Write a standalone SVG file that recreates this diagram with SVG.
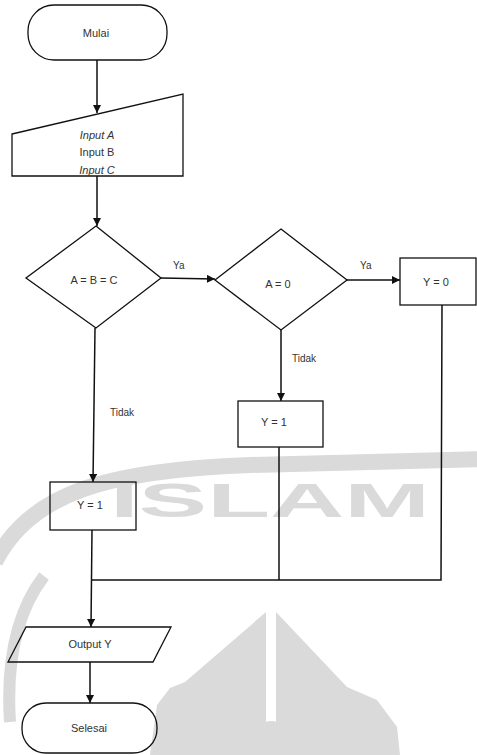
<svg xmlns="http://www.w3.org/2000/svg" width="477" height="755" viewBox="0 0 477 755">
<style>
.bg{fill:#ffffff}
.wm{fill:#dadada;stroke:none}
.wms{fill:none;stroke:#dadada}
.shape{fill:none;stroke:#111;stroke-width:1.3}
.conn{fill:none;stroke:#111;stroke-width:1.5}
.t{font-family:"Liberation Sans",Arial,sans-serif;font-size:11px;fill:#333;text-anchor:middle}
.lbl{font-family:"Liberation Sans",Arial,sans-serif;font-size:10px;fill:#333;text-anchor:start}
</style>
<defs>
<marker id="arr" viewBox="0 0 10 10" refX="10" refY="5" markerWidth="9" markerHeight="8" orient="auto" markerUnits="userSpaceOnUse">
<path d="M0,0 L10,5 L0,10 Z" fill="#111"/>
</marker>
</defs>
<rect class="bg" x="0" y="0" width="477" height="755"/>
<g id="watermark">
<path class="wms" stroke-width="16" d="M-5,562 C30,492 110,470 250,465 L482,459"/>
<path class="wms" stroke-width="12" d="M44,576 C18,610 6,660 10,722"/>
<path class="wm" d="M266,612 L185,682 L170,688 L157,705 L150,755 L400,755 L397,727 L377,700 L347,687 L276,612 Z"/>
<rect x="266" y="612" width="10" height="112" fill="#ffffff"/>
<circle class="wm" cx="271" cy="737" r="16"/>
<text x="110" y="517" font-family="'Liberation Sans',Arial,sans-serif" font-weight="bold" font-size="48" fill="#dadada" textLength="320" lengthAdjust="spacingAndGlyphs">ISLAM</text>
</g>
<g id="connectors">
<path class="conn" d="M97,60 L97,113" marker-end="url(#arr)"/>
<path class="conn" d="M97,176 L97,226" marker-end="url(#arr)"/>
<path class="conn" d="M161,278 L215,279" marker-end="url(#arr)"/>
<path class="conn" d="M347,280 L400,280" marker-end="url(#arr)"/>
<path class="conn" d="M281,330 L281,401" marker-end="url(#arr)"/>
<path class="conn" d="M95,328 L93,482" marker-end="url(#arr)"/>
<path class="conn" d="M279,447 L279,580"/>
<path class="conn" d="M442,305 L441,580 L92,580"/>
<path class="conn" d="M92,530 L91,627" marker-end="url(#arr)"/>
<path class="conn" d="M90,662 L90,703" marker-end="url(#arr)"/>
<text class="lbl" x="173" y="269">Ya</text>
<text class="lbl" x="360" y="269">Ya</text>
<text class="lbl" x="292" y="362">Tidak</text>
<text class="lbl" x="110" y="416">Tidak</text>
</g>
<g id="mulai">
<rect class="shape" x="28" y="5" width="139" height="55" rx="26" ry="26"/>
<text class="t" x="96" y="37">Mulai</text>
</g>
<g id="input">
<path class="shape" d="M12,134 L183,94 L183,176 L12,176 Z"/>
<text class="t" x="97" y="139" font-style="italic">Input A</text>
<text class="t" x="97" y="156">Input B</text>
<text class="t" x="97" y="174" font-style="italic">Input C</text>
</g>
<g id="cek-abc">
<path class="shape" d="M96,226 L161,278 L96,328 L26,278 Z"/>
<text class="t" x="94" y="284" font-size="12">A = B = C</text>
</g>
<g id="cek-a0">
<path class="shape" d="M281,229 L347,280 L281,330 L215,280 Z"/>
<text class="t" x="278" y="288" font-size="17">A = 0</text>
</g>
<g id="y0">
<rect class="shape" x="400" y="258" width="76" height="47"/>
<text class="t" x="436" y="286">Y = 0</text>
</g>
<g id="y1-mid">
<rect class="shape" x="238" y="401" width="85" height="46"/>
<text class="t" x="274" y="426">Y = 1</text>
</g>
<g id="y1-left">
<rect class="shape" x="50" y="482" width="86" height="48"/>
<text class="t" x="90" y="509">Y = 1</text>
</g>
<g id="output">
<path class="shape" d="M26,627 L171,627 L153,662 L8,662 Z"/>
<text class="t" x="90" y="648">Output Y</text>
</g>
<g id="selesai">
<rect class="shape" x="22" y="703" width="135" height="50" rx="24" ry="24"/>
<text class="t" x="89" y="732">Selesai</text>
</g>
</svg>
